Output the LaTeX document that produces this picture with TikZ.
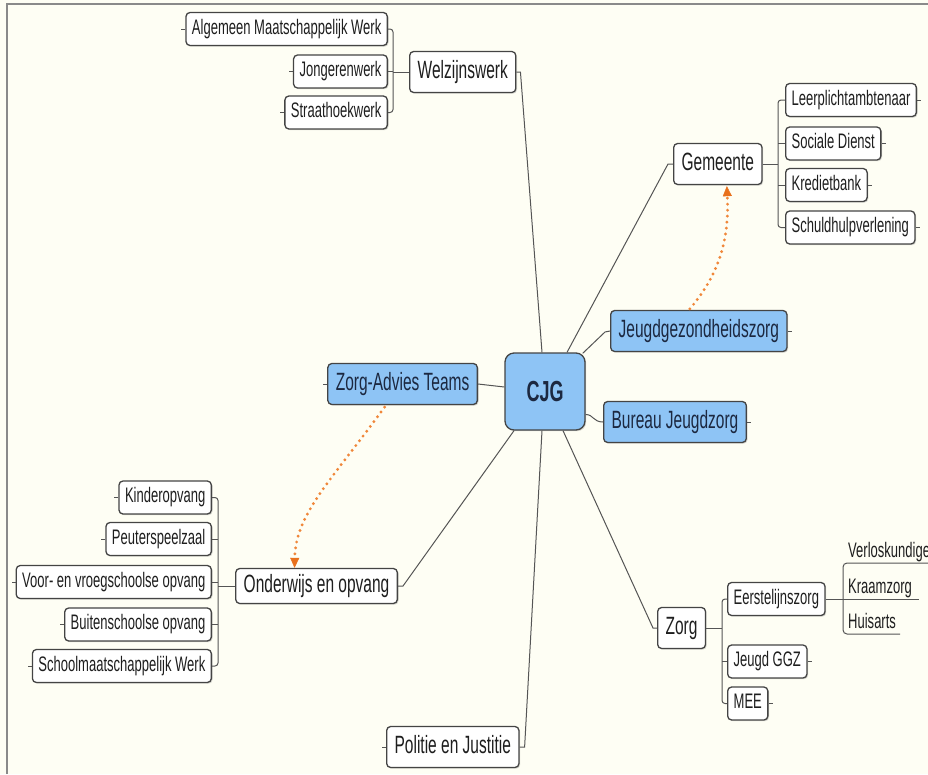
\documentclass[tikz,border=0pt]{standalone}
\usepackage{fontspec}
\setmainfont{Liberation Sans}[FakeStretch=0.62]
\usetikzlibrary{calc,arrows.meta,shadows}
\definecolor{bgc}{HTML}{FEFEF4}
\definecolor{bordergray}{HTML}{444444}
\definecolor{linegray}{HTML}{555555}
\definecolor{framegray}{HTML}{8A8A8A}
\definecolor{cjgblue}{HTML}{8EC4F5}
\definecolor{navytxt}{HTML}{1C2840}
\definecolor{txtc}{HTML}{1E1E1E}
\definecolor{orangec}{HTML}{F0873A}
\definecolor{orangetip}{HTML}{E8701C}
\begin{document}
\begin{tikzpicture}[x=1pt,y=-1pt,
  basebox/.style={draw=bordergray, line width=1.3pt, rounded corners=4pt, fill=white, text=txtc,
    inner ysep=0pt, drop shadow={shadow xshift=1.2pt,shadow yshift=-1.2pt,opacity=0.3}},
  smallnode/.style={basebox, font=\fontsize{21}{25}\selectfont, inner xsep=6pt,
    text height=15pt, text depth=4.5pt, minimum height=33pt},
  bignode/.style={basebox, font=\fontsize{25}{29}\selectfont, inner xsep=8pt,
    text height=18pt, text depth=5pt, minimum height=41pt},
  bluenode/.style={fill=cjgblue, text=navytxt},
  cjgnode/.style={basebox, fill=cjgblue, text=navytxt, font=\bfseries\fontsize{29}{32}\selectfont,
    minimum width=80pt, minimum height=77pt, rounded corners=9pt, inner sep=0pt},
  plainnode/.style={font=\fontsize{21}{25}\selectfont, text=txtc, inner sep=0pt},
  conn/.style={draw=linegray, line width=1pt},
  orangedot/.style={draw=orangec, line width=3.2pt, line cap=round, dash pattern=on 0pt off 6pt,
    -{Triangle[length=10pt,width=9pt,line width=0.4pt,fill=orangetip,color=orangetip]}}
]
\fill[bgc] (0,0) rectangle (928,774);
\useasboundingbox (0,0) rectangle (928,774);
\draw[framegray, line width=1.5pt] (7,774) -- (7,4) -- (928,4);

% centre
\node[cjgnode] (cjg) at (545,391.5) {CJG};

% Welzijnswerk cluster
\node[bignode, anchor=west] (welz) at (409,72) {Welzijnswerk};
\node[smallnode, anchor=east] (amw) at (388,29) {Algemeen Maatschappelijk Werk};
\node[smallnode, anchor=east] (jong) at (388,71.5) {Jongerenwerk};
\node[smallnode, anchor=east] (straat) at (388,112.5) {Straathoekwerk};

% Gemeente cluster
\node[bignode, anchor=west] (gem) at (673,164) {Gemeente};
\node[smallnode, anchor=west] (leer) at (785,100) {Leerplichtambtenaar};
\node[smallnode, anchor=west] (soc) at (785,143.5) {Sociale Dienst};
\node[smallnode, anchor=west] (kred) at (785,185) {Kredietbank};
\node[smallnode, anchor=west] (schuld) at (785,227.5) {Schuldhulpverlening};

% blue nodes
\node[bignode, bluenode, anchor=west] (jgz) at (610,331) {Jeugdgezondheidszorg};
\node[bignode, bluenode, anchor=west] (bjz) at (603,422) {Bureau Jeugdzorg};
\node[bignode, bluenode, anchor=east] (zat) at (478,384) {Zorg-Advies Teams};

% Onderwijs cluster
\node[bignode, anchor=east, minimum height=35pt] (onder) at (398,586) {Onderwijs en opvang};
\node[smallnode, anchor=east] (kinder) at (212,497.5) {Kinderopvang};
\node[smallnode, anchor=east] (peuter) at (212,539) {Peuterspeelzaal};
\node[smallnode, anchor=east] (voor) at (212,582) {Voor- en vroegschoolse opvang};
\node[smallnode, anchor=east] (buiten) at (212,624.5) {Buitenschoolse opvang};
\node[smallnode, anchor=east] (school) at (212,666) {Schoolmaatschappelijk Werk};

% Zorg cluster
\node[bignode, anchor=west] (zorg) at (657,628) {Zorg};
\node[smallnode, anchor=west] (eerst) at (727,599) {Eerstelijnszorg};
\node[smallnode, anchor=west] (jggz) at (727,661.5) {Jeugd GGZ};
\node[smallnode, anchor=west] (mee) at (727,703.5) {MEE};
\node[plainnode, anchor=base west] (verl) at (848,557) {Verloskundige};
\node[plainnode, anchor=base west] (kraam) at (848,593) {Kraamzorg};
\node[plainnode, anchor=base west] (huis) at (848,628) {Huisarts};

% Politie
\node[bignode, anchor=west] (pol) at (386,747) {Politie en Justitie};

% connectors from CJG
\draw[conn] ($(cjg.north)+(-3,0)$) -- ($(welz.east)+(4,0)$) -- (welz.east);
\draw[conn] ($(cjg.north)+(22,0)$) -- ($(gem.west)+(-5,0)$) -- (gem.west);
\draw[conn] ($(cjg.north east)+(-3,1)$) -- ($(jgz.west)+(-5,1)$) -- (jgz.west);
\draw[conn] ($(cjg.east)+(0,23)$) .. controls ($(cjg.east)+(8,23)$) and ($(bjz.west)+(-10,0)$) .. (bjz.west);
\draw[conn] (zat.east) -- ($(cjg.west)+(0,-4.5)$);
\draw[conn] ($(cjg.south)+(-31,0)$) -- ($(onder.east)+(5,0)$) -- (onder.east);
\draw[conn] ($(cjg.south)+(-3,0)$) -- ($(pol.east)+(5,0)$) -- (pol.east);
\draw[conn] ($(cjg.south)+(18,0)$) -- ($(zorg.west)+(-4,0)$) -- (zorg.west);

% brackets
\coordinate (bw) at (393,72);
\draw[conn, rounded corners=3pt] (amw.east) -- (amw.east -| bw) -- (straat.east -| bw) -- (straat.east);
\draw[conn] (jong.east) -- (jong.east -| bw);
\draw[conn] (welz.west) -- (bw);

\coordinate (bgm) at (778,164);
\draw[conn, rounded corners=3pt] (leer.west) -- (leer.west -| bgm) -- (schuld.west -| bgm) -- (schuld.west);
\draw[conn] (soc.west) -- (soc.west -| bgm);
\draw[conn] (kred.west) -- (kred.west -| bgm);
\draw[conn] (gem.east) -- (bgm);

\coordinate (bo) at (218,586);
\draw[conn, rounded corners=3pt] (kinder.east) -- (kinder.east -| bo) -- (school.east -| bo) -- (school.east);
\draw[conn] (peuter.east) -- (peuter.east -| bo);
\draw[conn] (voor.east) -- (voor.east -| bo);
\draw[conn] (buiten.east) -- (buiten.east -| bo);
\draw[conn] (onder.west) -- (bo);

\coordinate (bz) at (722,628);
\draw[conn, rounded corners=3pt] (eerst.west) -- (eerst.west -| bz) -- (mee.west -| bz) -- (mee.west);
\draw[conn] (jggz.west) -- (jggz.west -| bz);
\draw[conn] (zorg.east) -- (bz);

\coordinate (b3) at (843,599);
\coordinate (vu) at ($(verl.base east)+(6,6)$);
\coordinate (ku) at ($(kraam.base east)+(7,6)$);
\coordinate (hu) at ($(huis.base east)+(4,6)$);
\draw[conn, rounded corners=4pt] (vu) -- (vu -| b3) -- (hu -| b3) -- (hu);
\draw[conn] (eerst.east) -- (ku);

% stubs
\foreach \n in {amw,jong,straat,zat,kinder,peuter,voor,buiten,school,pol}
  \draw[conn] (\n.west) -- ++(-4,0);
\foreach \n in {leer,soc,kred,schuld,jgz,bjz,jggz,mee}
  \draw[conn] (\n.east) -- ++(4,0);

% orange dotted arrows
\draw[orangedot] ($(jgz.north)+(-9,-1)$) .. controls ($(jgz.north)+(20,-35)$) and ($(gem.south)+(11.5,55)$) .. ($(gem.south)+(9,1)$);
\draw[orangedot] ($(zat.south)+(-18,2)$) .. controls ($(zat.south)+(-71,75)$) and ($(onder.north)+(-21,-54)$) .. ($(onder.north)+(-22,0)$);
\end{tikzpicture}
\end{document}
